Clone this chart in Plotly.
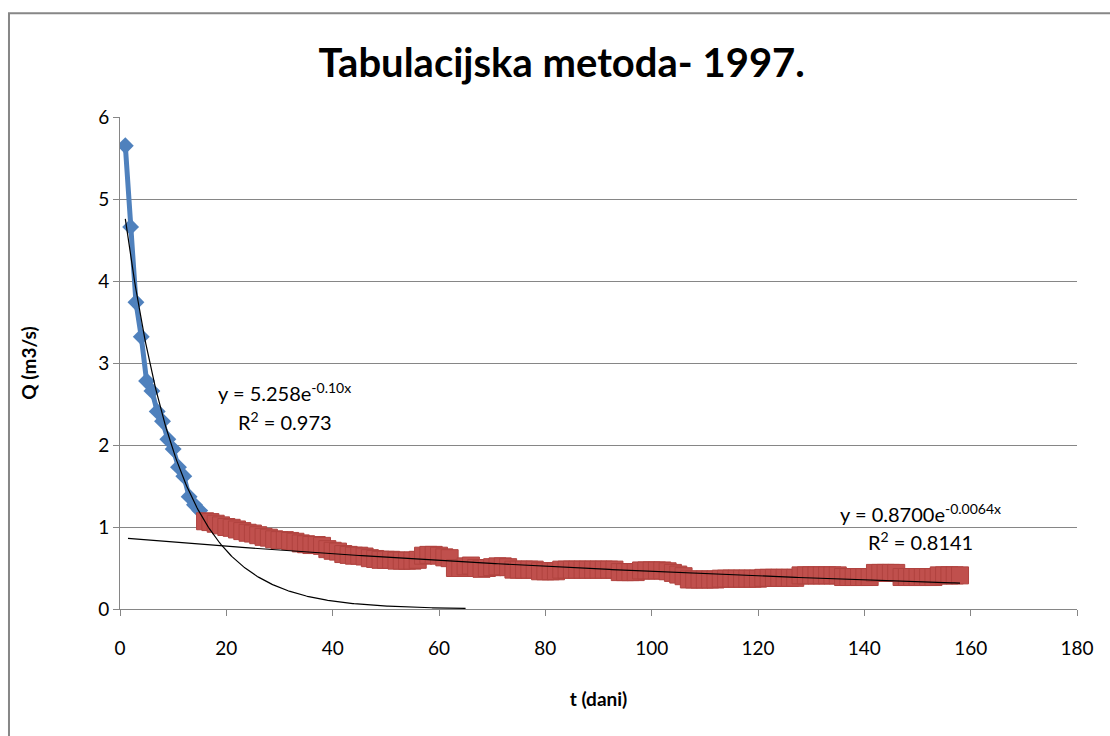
import plotly.graph_objects as go
import numpy as np

# Recession period 1 (days 1-15), discharge Q in m3/s
days_a = list(range(1, 16))
q_a = [5.65, 4.66, 3.74, 3.32, 2.78, 2.66, 2.41, 2.29, 2.07, 1.95,
       1.73, 1.62, 1.37, 1.27, 1.20]

# Recession period 2 (days 16-158), discharge Q in m3/s
days_b = list(range(16, 159))
q_b = [
    1.07, 1.06, 1.04, 1.02, 1.00, 0.99, 0.97, 0.95, 0.93, 0.92,   # 16-25
    0.90, 0.88, 0.87, 0.85, 0.84, 0.84, 0.83, 0.82, 0.80, 0.79,   # 26-35
    0.78, 0.78, 0.77, 0.73, 0.71, 0.70, 0.67, 0.66, 0.65, 0.65,   # 36-45
    0.64, 0.62, 0.61, 0.60, 0.60, 0.60, 0.59, 0.59, 0.59, 0.59,   # 46-55
    0.60, 0.65, 0.66, 0.66, 0.65, 0.63, 0.62, 0.50, 0.50, 0.52,   # 56-65
    0.53, 0.50, 0.49, 0.50, 0.51, 0.52, 0.52, 0.51, 0.48, 0.48,   # 66-75
    0.48, 0.48, 0.48, 0.46, 0.46, 0.46, 0.46, 0.48, 0.48, 0.48,   # 76-85
    0.48, 0.48, 0.48, 0.48, 0.48, 0.48, 0.48, 0.48, 0.45, 0.45,   # 86-95
    0.45, 0.45, 0.47, 0.47, 0.47, 0.47, 0.47, 0.46, 0.44, 0.42,   # 96-105
    0.40, 0.36, 0.36, 0.36, 0.36, 0.36, 0.36, 0.37, 0.37, 0.37,   # 106-115
    0.37, 0.37, 0.37, 0.37, 0.37, 0.38, 0.38, 0.38, 0.38, 0.38,   # 116-125
    0.38, 0.38, 0.41, 0.41, 0.41, 0.41, 0.41, 0.41, 0.41, 0.41,   # 126-135
    0.39, 0.39, 0.39, 0.39, 0.39, 0.39, 0.44, 0.44, 0.44, 0.44,   # 136-145
    0.44, 0.39, 0.39, 0.39, 0.39, 0.39, 0.39, 0.39, 0.41, 0.41,   # 146-155
    0.41, 0.41, 0.41,                                             # 156-158
]

# Exponential trendlines  Q = a * exp(b * t)
fit_a = (5.258, -0.10)
fit_b = (0.8700, -0.0064)
fit_a_span = (1, 65)
fit_b_span = (1.5, 158)

x_ticks = list(range(0, 181, 20))
y_ticks = list(range(0, 7))

grid_col = "#868686"
font_main = "Lato, 'Open Sans', sans-serif"

fig = go.Figure()

fig.add_trace(go.Scatter(
    x=days_a, y=q_a, mode="lines+markers",
    line=dict(color="#4F81BD", width=5),
    marker=dict(symbol="diamond", size=13, color="#4F81BD"),
    showlegend=False, hoverinfo="x+y",
))

fig.add_trace(go.Scatter(
    x=days_b, y=q_b, mode="markers",
    marker=dict(symbol="square", size=17, color="#C0504D",
                line=dict(color="#B0433F", width=1)),
    showlegend=False, hoverinfo="x+y",
))

for (a, b), (t0, t1) in ((fit_a, fit_a_span), (fit_b, fit_b_span)):
    t = np.linspace(t0, t1, 300)
    fig.add_trace(go.Scatter(
        x=t, y=a * np.exp(b * t), mode="lines",
        line=dict(color="#000000", width=1.2),
        showlegend=False, hoverinfo="skip",
    ))

ann_font = dict(family=font_main, size=20, color="#000000")
annotations = [
    dict(x=31, y=2.65, text="y = 5.258e<sup>-0.10x</sup>"),
    dict(x=31, y=2.29, text="R<sup>2</sup> = 0.973"),
    dict(x=150.6, y=1.17, text="y = 0.8700e<sup>-0.0064x</sup>"),
    dict(x=150.6, y=0.83, text="R<sup>2</sup> = 0.8141"),
]
for a in annotations:
    a.update(xref="x", yref="y", showarrow=False, font=ann_font,
             xanchor="center", yanchor="middle")

fig.update_layout(
    width=1110, height=736,
    margin=dict(l=120, r=33, t=117, b=127),
    paper_bgcolor="white", plot_bgcolor="white",
    title=dict(text="<b>Tabulacijska metoda- 1997.</b>",
               font=dict(family=font_main, size=40, color="#000000"),
               x=0.506, xanchor="center", y=0.914, yanchor="middle"),
    annotations=annotations,
    shapes=[dict(type="rect", xref="paper", yref="paper",
                 x0=-0.116, x1=1.2, y0=-0.5, y1=1.211,
                 line=dict(color="#878787", width=2), layer="below")],
    font=dict(family=font_main, size=18, color="#000000"),
)

fig.update_xaxes(
    range=[0, 180], tickvals=x_ticks, showgrid=False, zeroline=False,
    showline=True, linecolor=grid_col, linewidth=1,
    ticks="outside", ticklen=6, tickcolor=grid_col,
    ticklabelstandoff=16,
    tickfont=dict(family=font_main, size=19),
    title=dict(text="<b>t (dani)</b>", font=dict(family=font_main, size=19),
               standoff=34),
)
fig.update_yaxes(
    range=[0, 6], tickvals=y_ticks, showgrid=True, gridcolor=grid_col,
    gridwidth=1, zeroline=False,
    showline=True, linecolor=grid_col, linewidth=1,
    ticks="outside", ticklen=6, tickcolor=grid_col,
    tickfont=dict(family=font_main, size=19),
    title=dict(text="<b>Q (m3/s)</b>", font=dict(family=font_main, size=19),
               standoff=56),
)

fig.write_html("out.html")
